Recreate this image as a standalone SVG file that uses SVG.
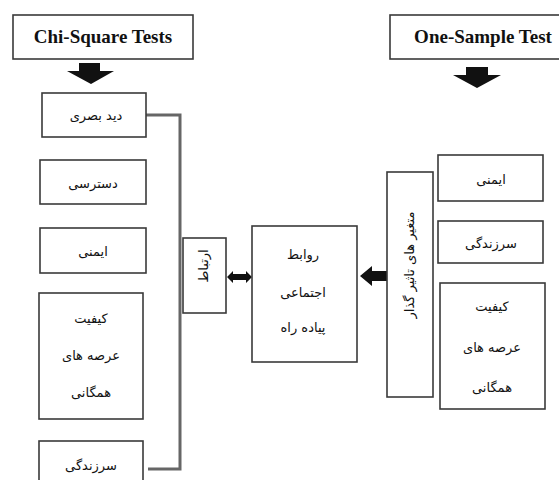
<svg xmlns="http://www.w3.org/2000/svg" width="559" height="480" viewBox="0 0 559 480">
<style>
.box{fill:#fff;stroke:#3a3a3a;stroke-width:1.6}
.hdr{font-family:"Liberation Serif","Times New Roman","DejaVu Serif",serif;font-weight:bold;font-size:19px;fill:#111;text-anchor:middle}
.fa{font-family:"DejaVu Sans",sans-serif;font-size:13px;fill:#111;text-anchor:middle}
.arrow{fill:#111}
.conn{fill:none;stroke:#666;stroke-width:3}
</style>
<rect width="559" height="480" fill="#fff"/>
<g id="connectors">
<path class="conn" d="M146,115 H180 V469 H148"/>
<polygon class="arrow" points="79,63 100,63 100,71 114,71 91,84 67,71 79,71"/>
<polygon class="arrow" points="466,67 488,67 488,75 501,75 477,88 453,75 466,75"/>
<polygon class="arrow" points="227,277 233,271 233,274 246,274 246,271 252,277 246,283 246,280 233,280 233,283"/>
<polygon class="arrow" points="360,276 372,266 372,271 387,271 387,281 372,281 372,286"/>
</g>
<g id="chi-square">
<rect class="box" x="13" y="15" width="180" height="44"/>
<text class="hdr" x="103" y="43">Chi-Square Tests</text>
</g>
<g id="one-sample">
<rect class="box" x="390" y="15" width="185" height="44"/>
<text class="hdr" x="483" y="43">One-Sample Test</text>
</g>
<g id="l-didbasari">
<rect class="box" x="42" y="93" width="104" height="44"/>
<text class="fa" x="96" y="120">دید بصری</text>
</g>
<g id="l-dastrasi">
<rect class="box" x="40" y="160" width="106" height="44"/>
<text class="fa" x="93" y="188">دسترسی</text>
</g>
<g id="l-imeni">
<rect class="box" x="40" y="228" width="106" height="45"/>
<text class="fa" x="93" y="256">ایمنی</text>
</g>
<g id="l-keyfiyat">
<rect class="box" x="39" y="293" width="104" height="126"/>
<text class="fa" x="91" y="323">کیفیت</text>
<text class="fa" x="91" y="360">عرصه های</text>
<text class="fa" x="91" y="397">همگانی</text>
</g>
<g id="l-sarzendegi">
<rect class="box" x="39" y="441" width="104" height="50"/>
<text class="fa" x="91" y="470">سرزندگی</text>
</g>
<g id="ertebat">
<rect class="box" x="183" y="238" width="43" height="75"/>
<text class="fa" transform="translate(208,266) rotate(-90)" x="0" y="0">ارتباط</text>
</g>
<g id="center">
<rect class="box" x="252" y="226" width="105" height="136"/>
<text class="fa" x="303" y="259">روابط</text>
<text class="fa" x="303" y="297">اجتماعی</text>
<text class="fa" x="303" y="332">پیاده راه</text>
</g>
<g id="moteghayer">
<rect class="box" x="387" y="172" width="46" height="225"/>
<text class="fa" font-size="14" transform="translate(414,265) rotate(-90)" x="0" y="0">متغیر  های  تاثیر گذار</text>
</g>
<g id="r-imeni">
<rect class="box" x="438" y="155" width="105" height="46"/>
<text class="fa" x="491" y="184">ایمنی</text>
</g>
<g id="r-sarzendegi">
<rect class="box" x="438" y="221" width="105" height="42"/>
<text class="fa" x="491" y="248">سرزندگی</text>
</g>
<g id="r-keyfiyat">
<rect class="box" x="440" y="283" width="105" height="126"/>
<text class="fa" x="492" y="311">کیفیت</text>
<text class="fa" x="492" y="352">عرصه های</text>
<text class="fa" x="492" y="392">همگانی</text>
</g>
</svg>
